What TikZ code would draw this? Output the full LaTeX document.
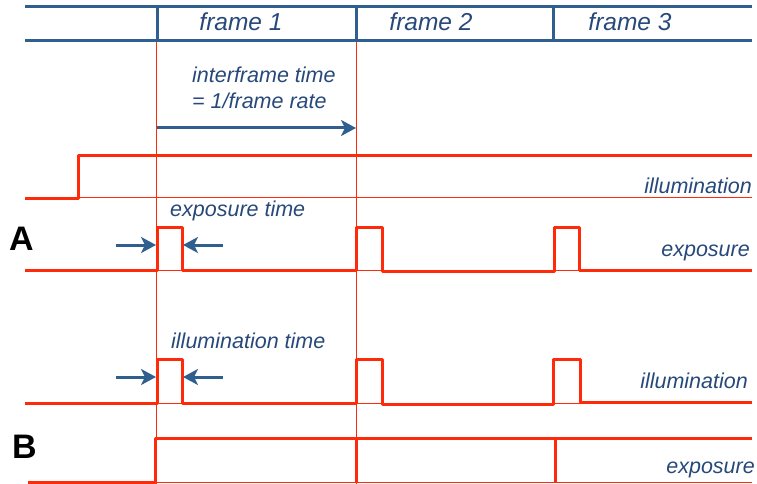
\documentclass[tikz,border=0pt]{standalone}
\usepackage{fontspec}
\setmainfont{Liberation Sans}
\usetikzlibrary{arrows.meta}
\definecolor{sigred}{HTML}{FF2A0A}
\definecolor{hdrblue}{HTML}{2E5F8F}
\definecolor{txtblue}{HTML}{27497A}
\begin{document}
\begin{tikzpicture}[x=1pt,y=-1pt,
 hdr/.style={hdrblue,line width=3pt},
 sig/.style={sigred,line width=3pt,line join=round},
 thinred/.style={sigred,line width=0.8pt},
 lab/.style={txtblue,font=\fontsize{21.5}{25}\selectfont\itshape,inner sep=0pt},
 hlab/.style={txtblue,font=\fontsize{24.5}{28}\selectfont\itshape,inner sep=0pt},
 big/.style={font=\fontsize{34}{36}\selectfont\bfseries,inner sep=0pt},
 barrow/.style={hdrblue,line width=3pt,-{Stealth[length=15pt,width=16pt,inset=4pt]}}
]
\useasboundingbox (0,0) rectangle (757,484);
% thin frame markers
\draw[thinred] (156.5,41) -- (156.5,484);
\draw[thinred] (356,41) -- (356,484);
% header
\draw[hdr] (25,7) -- (752,7);
\draw[hdr] (25,41) -- (752,41);
\draw[hdr] (157,7) -- (157,41);
\draw[hdr] (356,7) -- (356,41);
\draw[hdr] (553,7) -- (553,41);
\node[hlab,anchor=base] (f1) at (241,31) {frame 1};
\node[hlab,anchor=base] (f2) at (431,31) {frame 2};
\node[hlab,anchor=base] (f3) at (630,31) {frame 3};
% interframe
\node[lab,anchor=base west] (it1) at (192,83) {interframe time};
\node[lab,anchor=base west] (it2) at (192,109) {= 1/frame rate};
\coordinate (ia) at (157,128);
\coordinate (ib) at (356,128);
\draw[barrow] (ia) -- (ib);
% illumination (top)
\draw[thinred] (78,197) -- (752,197);
\draw[sig] (25,198) -- (78,198) -- (78,155) -- (752,155);
\node[lab,anchor=base east] (il1) at (752,193) {illumination};
% A
\node[big,anchor=base west] (A) at (9,250) {A};
\node[lab,anchor=base west] (et) at (170,216) {exposure time};
\draw[thinred] (25,270) -- (752,270);
\draw[sig] (25,270) -- (157,270) -- (157,227) -- (182,227) -- (182,270)
  -- (356,270) -- (356,227) -- (382,227) -- (382,271) -- (554,271)
  -- (554,227) -- (579,227) -- (579,270) -- (752,270);
\coordinate (ea1) at (116,245); \coordinate (ea2) at (156,245);
\coordinate (eb1) at (223,245); \coordinate (eb2) at (183,245);
\draw[barrow] (ea1) -- (ea2);
\draw[barrow] (eb1) -- (eb2);
\node[lab,anchor=base east] (ex1) at (750,256) {exposure};
% B illumination
\node[lab,anchor=base west] (lt) at (171,348) {illumination time};
\draw[thinred] (25,403) -- (752,403);
\draw[sig] (25,403) -- (157,403) -- (157,359) -- (182,359) -- (182,403)
  -- (356,403) -- (356,359) -- (382,359) -- (382,404) -- (553,404)
  -- (553,359) -- (580,359) -- (580,402) -- (752,402);
\coordinate (la1) at (116,377); \coordinate (la2) at (156,377);
\coordinate (lb1) at (223,377); \coordinate (lb2) at (183,377);
\draw[barrow] (la1) -- (la2);
\draw[barrow] (lb1) -- (lb2);
\node[lab,anchor=base east] (il2) at (748,388) {illumination};
% B
\node[big,anchor=base west] (B) at (12,458) {B};
\draw[thinred] (28,482) -- (752,482);
\draw[sig] (28,482) -- (155,482) -- (155,438) -- (752,438);
\draw[sig] (356,438) -- (356,482);
\draw[sig] (555,438) -- (555,482);
\node[lab,anchor=base east] (ex2) at (755,473) {exposure};
\end{tikzpicture}
\end{document}
